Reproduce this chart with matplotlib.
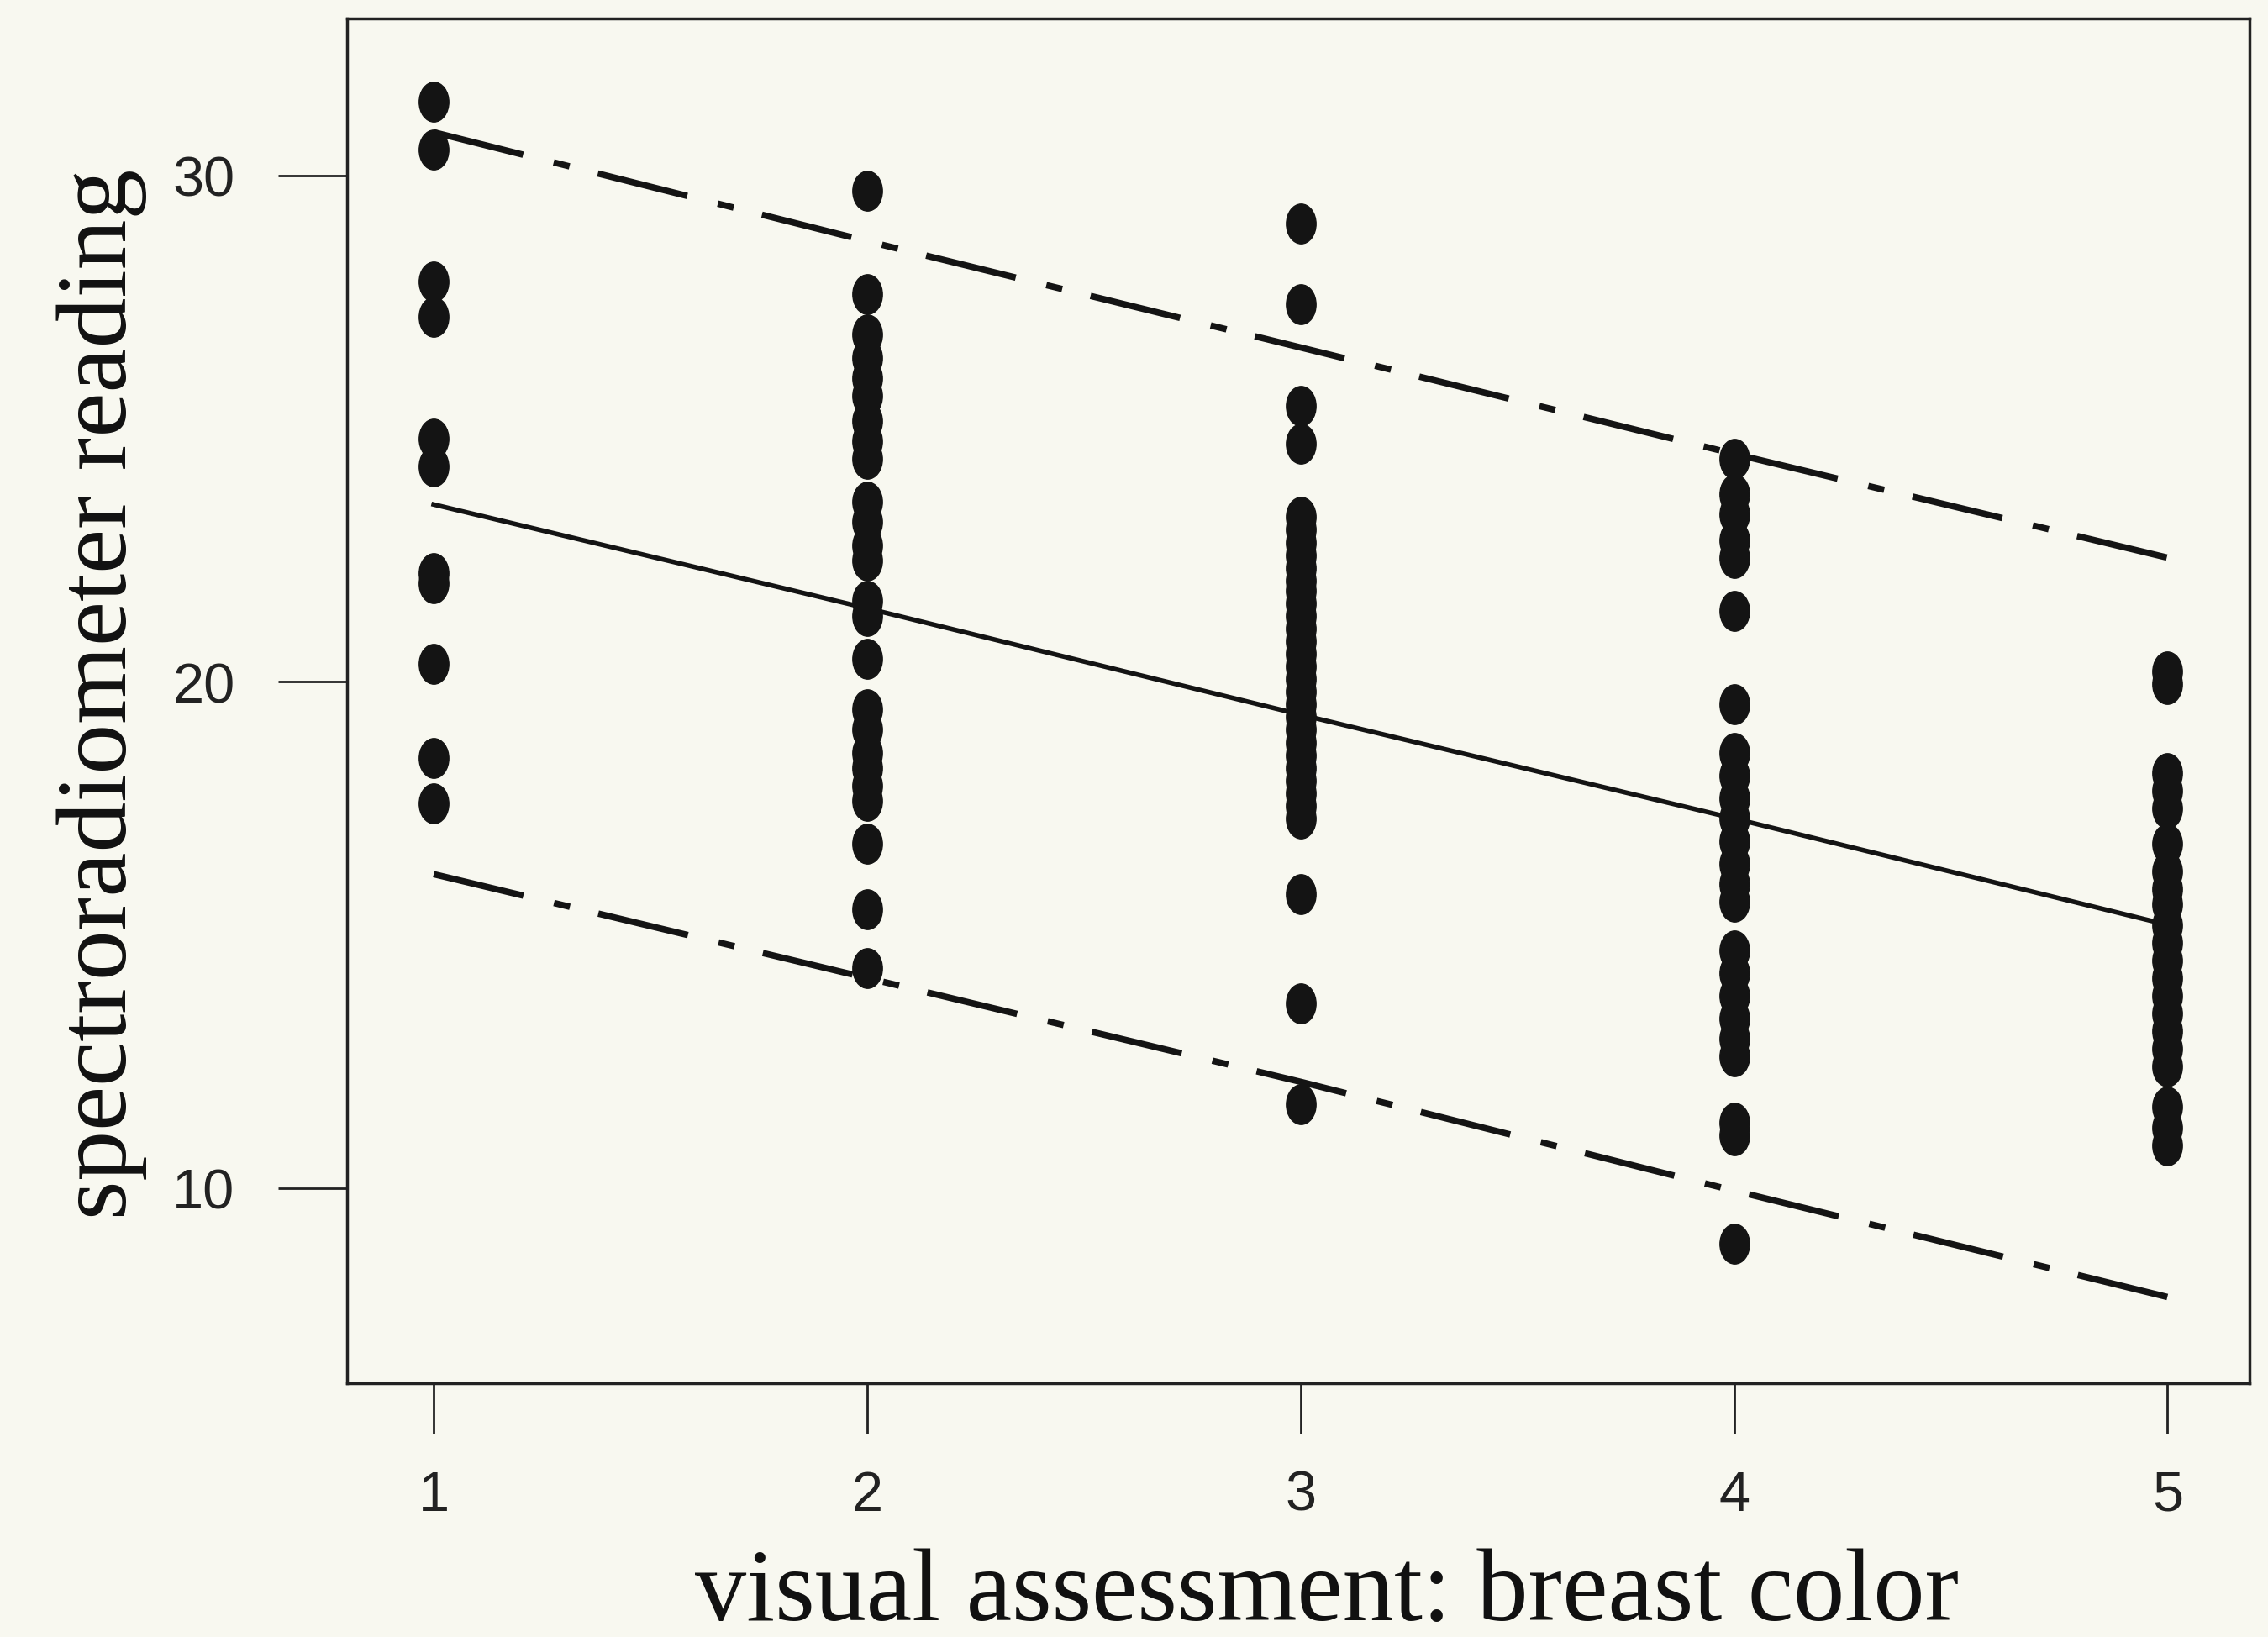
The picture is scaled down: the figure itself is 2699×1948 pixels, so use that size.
import matplotlib
matplotlib.use("Agg")
import matplotlib.pyplot as plt
from matplotlib.markers import MarkerStyle
from matplotlib.transforms import Affine2D

# spectroradiometer readings grouped by visual breast-colour score
score_levels = [1, 2, 3, 4, 5]
readings_1 = [31.45, 30.5, 27.9, 27.2, 24.8, 24.25, 22.15, 21.95, 20.35, 18.5, 17.6]
readings_2 = [29.7, 27.65, 26.85, 26.4, 26.0, 25.65, 25.15, 24.75, 24.4, 23.55,
              23.15, 22.7, 22.4, 21.6, 21.3, 20.45, 19.45, 19.05, 18.6, 18.3,
              17.95, 17.65, 16.8, 15.5, 14.35]
readings_3 = [29.05, 27.45, 25.45, 24.7, 23.25, 23.0, 22.75, 22.5, 22.25, 22.0,
              21.8, 21.55, 21.3, 21.05, 20.8, 20.55, 20.3, 20.05, 19.8, 19.55,
              19.3, 19.05, 18.8, 18.55, 18.3, 18.05, 17.8, 17.55, 17.3, 15.8,
              13.65, 11.65]
readings_4 = [24.4, 23.7, 23.3, 22.8, 22.45, 21.4, 19.55, 18.6, 18.15, 17.7,
              17.3, 16.85, 16.4, 16.0, 15.65, 14.7, 14.25, 13.8, 13.35, 12.95,
              12.6, 11.3, 11.05, 8.9]
readings_5 = [20.2, 19.95, 18.2, 17.85, 17.5, 16.8, 16.25, 15.9, 15.6, 15.2,
              14.85, 14.5, 14.15, 13.8, 13.45, 13.1, 12.75, 12.4, 11.6, 11.2,
              10.85]
groups = [readings_1, readings_2, readings_3, readings_4, readings_5]

# regression line and prediction band
fit_mid = [23.5, 21.45, 19.35, 17.3, 15.2]
fit_hi = [30.85, 28.7, 26.6, 24.5, 22.45]
fit_lo = [16.2, 14.15, 12.1, 9.95, 7.85]

bg = "#f8f8f0"
plt.rcParams["lines.scale_dashes"] = False

fig = plt.figure(figsize=(26.99, 19.49), dpi=100, facecolor=bg)
ax = fig.add_axes([0.153, 0.155, 0.839, 0.833], facecolor=bg)

# dots in the scan are a bit taller than wide
dot = MarkerStyle("o", transform=Affine2D().scale(0.82, 1.1))
for lvl, vals in zip(score_levels, groups):
    ax.plot([lvl] * len(vals), vals, linestyle="none", marker=dot,
            markersize=31, color="#141414", zorder=3)

ax.plot(score_levels, fit_mid, color="#141414", lw=4, zorder=4)
for band in (fit_hi, fit_lo):
    ax.plot(score_levels, band, color="#141414", lw=5.5, zorder=4,
            dashes=(79, 27, 14, 25), dash_capstyle="butt")

ax.set_xlim(0.8, 5.19)
ax.set_ylim(6.15, 33.09)
ax.set_xticks(score_levels)
ax.set_yticks([10, 20, 30])

for sp in ax.spines.values():
    sp.set_linewidth(2.5)
    sp.set_color("#222222")

ax.tick_params(axis="x", length=43, width=2, pad=31, labelsize=48, colors="#222222")
ax.tick_params(axis="y", length=59, width=2, pad=37, labelsize=48, colors="#222222")
for lab in ax.get_xticklabels() + ax.get_yticklabels():
    lab.set_family("Liberation Sans")

fig.text(0.585, 0.011, "visual assessment: breast color", family="Liberation Serif",
         fontsize=88, ha="center", va="baseline", color="#111111")
fig.text(0.045, 0.576, "spectroradiometer reading", family="Liberation Serif",
         fontsize=86, rotation=90, ha="center", va="center", color="#111111")

fig.savefig("out.png", dpi=100, facecolor=bg)
